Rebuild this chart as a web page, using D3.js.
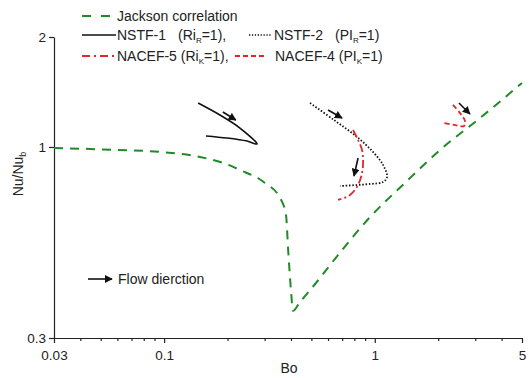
<!DOCTYPE html>
<html lang="en">
<head>
  <meta charset="UTF-8">
  <title>Nu/Nub vs Bo</title>
  <style>
    html, body { margin: 0; padding: 0; background: #fff; }
    #main { width: 529px; height: 378px; }
    text { font-family: "Liberation Sans", Arial, sans-serif; fill: #222; }
  </style>
</head>
<body>
  <div id="main"></div>
  <script src="https://d3js.org/d3.v7.min.js"></script>
  <script>
    // data
    const jacksonBo = [0.03, 0.05, 0.096, 0.148, 0.195, 0.229, 0.301, 0.355, 0.379, 0.388, 0.40, 0.409, 0.441, 0.52, 0.669, 0.95, 1.39, 2.04, 3.16, 5];
    const jacksonNu = [0.994, 0.985, 0.969, 0.939, 0.90, 0.865, 0.797, 0.725, 0.651, 0.522, 0.406, 0.356, 0.376, 0.421, 0.506, 0.643, 0.797, 0.981, 1.20, 1.497];

    const nstf1Bo = [0.145, 0.184, 0.229, 0.276, 0.2475, 0.199, 0.158];
    const nstf1Nu = [1.319, 1.223, 1.127, 1.019, 1.038, 1.058, 1.072];

    const nstf2Bo = [0.493, 0.641, 0.824, 0.981, 1.095, 1.144, 1.095, 0.95, 0.684];
    const nstf2Nu = [1.319, 1.185, 1.065, 0.969, 0.893, 0.828, 0.802, 0.792, 0.782];

    const nacef5Bo = [0.789, 0.833, 0.87, 0.88, 0.87, 0.833, 0.763, 0.669];
    const nacef5Nu = [1.113, 1.045, 0.981, 0.91, 0.849, 0.787, 0.739, 0.716];

    const nacef4Bo = [2.35, 2.54, 2.68, 2.65, 2.41, 2.13];
    const nacef4Nu = [1.303, 1.238, 1.178, 1.141, 1.148, 1.163];

    // flow direction arrows: [Bo start, Nu start, Bo end, Nu end]
    const arrows = [
      [0.19, 1.247, 0.219, 1.185],
      [0.60, 1.262, 0.699, 1.20],
      [0.833, 0.933, 0.797, 0.833],
      [2.51, 1.319, 2.83, 1.231]
    ];

    const boTicks = [0.03, 0.04, 0.05, 0.06, 0.07, 0.08, 0.09, 0.1, 0.2, 0.3, 0.4, 0.5, 0.6, 0.7, 0.8, 0.9, 1, 2, 3, 4, 5];
    const boLabels = [0.03, 0.1, 1, 5];
    const boMajor = [0.03, 0.1, 1, 5];
    const nuTicks = [0.3, 1, 2];

    const [width, height] = [529, 378];
    const svg = d3.select('#main').append('svg')
      .attr('width', width)
      .attr('height', height)
      .attr('viewBox', `0 0 ${width} ${height}`)

    const x = d3.scaleLog().domain([0.03, 5]).range([54, 522])
    const y = d3.scaleLog().domain([0.3, 2]).range([338, 37])

    const green = '#1f8a26', red = '#e3262b', black = '#111'

    svg.append('defs').append('marker')
      .attr('id', 'head')
      .attr('viewBox', '0 0 10 10')
      .attr('refX', 9).attr('refY', 5)
      .attr('markerWidth', 5).attr('markerHeight', 5)
      .attr('markerUnits', 'strokeWidth')
      .attr('orient', 'auto')
      .append('path').attr('d', 'M0,0 L10,5 L0,10 Z').attr('fill', black)

    // axes
    const xAxis = svg.append('g')
      .attr('transform', 'translate(0,338)')
      .call(d3.axisBottom(x).tickValues(boTicks).tickSizeOuter(0)
        .tickFormat(d => boLabels.includes(d) ? String(d) : ''))
    xAxis.selectAll('.tick line').attr('y2', d => boMajor.includes(d) ? 5 : 3)
    xAxis.selectAll('text').attr('dy', '0.95em').style('font-size', '13.5px')

    const yAxis = svg.append('g')
      .attr('transform', 'translate(54,0)')
      .call(d3.axisLeft(y).tickValues(nuTicks).tickSize(5).tickSizeOuter(0)
        .tickFormat(d => String(d)))
    yAxis.selectAll('text').style('font-size', '13.5px')
    svg.selectAll('.domain, .tick line').attr('stroke', '#222').attr('stroke-width', 1.2)

    svg.append('text').attr('x', 289).attr('y', 373).attr('text-anchor', 'middle')
      .style('font-size', '14px').text('Bo')
    const yl = svg.append('text').attr('transform', 'translate(23,174) rotate(-90)')
      .attr('text-anchor', 'middle').style('font-size', '14px')
    yl.append('tspan').text('Nu/Nu')
    yl.append('tspan').attr('dy', 3).style('font-size', '9px').text('b')

    // series
    const pts = (bo, nu) => bo.map((b, i) => [x(b), y(nu[i])])
    const line = d3.line().curve(d3.curveCatmullRom.alpha(0.5))

    svg.append('path').attr('d', d3.line().curve(d3.curveMonotoneX)(pts(jacksonBo, jacksonNu)))
      .attr('fill', 'none').attr('stroke', green).attr('stroke-width', 2).attr('stroke-dasharray', '9,7')
    svg.append('path').attr('d', line(pts(nstf1Bo, nstf1Nu)))
      .attr('fill', 'none').attr('stroke', black).attr('stroke-width', 1.6)
    svg.append('path').attr('d', line(pts(nstf2Bo, nstf2Nu)))
      .attr('fill', 'none').attr('stroke', black).attr('stroke-width', 1.8).attr('stroke-dasharray', '1.5,1.8')
    svg.append('path').attr('d', line(pts(nacef5Bo, nacef5Nu)))
      .attr('fill', 'none').attr('stroke', red).attr('stroke-width', 1.8).attr('stroke-dasharray', '8,3,2,3')
    svg.append('path').attr('d', line(pts(nacef4Bo, nacef4Nu)))
      .attr('fill', 'none').attr('stroke', red).attr('stroke-width', 1.8).attr('stroke-dasharray', '5,3')

    svg.selectAll('.arrow').data(arrows).join('line').attr('class', 'arrow')
      .attr('x1', d => x(d[0])).attr('y1', d => y(d[1]))
      .attr('x2', d => x(d[2])).attr('y2', d => y(d[3]))
      .attr('stroke', black).attr('stroke-width', 1.6).attr('marker-end', 'url(#head)')

    // legend
    const lg = svg.append('g').style('font-size', '14px')
    lg.append('line').attr('x1', 82).attr('x2', 114).attr('y1', 16).attr('y2', 16)
      .attr('stroke', green).attr('stroke-width', 2).attr('stroke-dasharray', '9,10')
    lg.append('text').attr('x', 117).attr('y', 21).text('Jackson correlation')

    lg.append('line').attr('x1', 82).attr('x2', 116).attr('y1', 35).attr('y2', 35)
      .attr('stroke', black).attr('stroke-width', 1.6)
    const t1 = lg.append('text').attr('x', 117).attr('y', 40)
    t1.append('tspan').text('NSTF-1')
    t1.append('tspan').attr('x', 178).text('(Ri')
    t1.append('tspan').attr('dy', 3).style('font-size', '8px').text('R')
    t1.append('tspan').attr('dy', -3).text('=1),')

    lg.append('line').attr('x1', 249).attr('x2', 271).attr('y1', 35).attr('y2', 35)
      .attr('stroke', black).attr('stroke-width', 1.6).attr('stroke-dasharray', '1.3,1.6')
    const t2 = lg.append('text').attr('x', 274).attr('y', 40)
    t2.append('tspan').text('NSTF-2')
    t2.append('tspan').attr('x', 335).text('(PI')
    t2.append('tspan').attr('dy', 3).style('font-size', '8px').text('R')
    t2.append('tspan').attr('dy', -3).text('=1)')

    lg.append('line').attr('x1', 82).attr('x2', 116).attr('y1', 56).attr('y2', 56)
      .attr('stroke', red).attr('stroke-width', 1.8).attr('stroke-dasharray', '8,4,2,4')
    const t3 = lg.append('text').attr('x', 117).attr('y', 61)
    t3.append('tspan').text('NACEF-5 (Ri')
    t3.append('tspan').attr('dy', 3).style('font-size', '8px').text('K')
    t3.append('tspan').attr('dy', -3).text('=1),')

    lg.append('line').attr('x1', 235).attr('x2', 266).attr('y1', 56).attr('y2', 56)
      .attr('stroke', red).attr('stroke-width', 1.8).attr('stroke-dasharray', '5,3')
    const t4 = lg.append('text').attr('x', 275).attr('y', 61)
    t4.append('tspan').text('NACEF-4 (PI')
    t4.append('tspan').attr('dy', 3).style('font-size', '8px').text('K')
    t4.append('tspan').attr('dy', -3).text('=1)')

    svg.append('line').attr('x1', 88).attr('x2', 112).attr('y1', 279).attr('y2', 279)
      .attr('stroke', black).attr('stroke-width', 1.6).attr('marker-end', 'url(#head)')
    svg.append('text').attr('x', 118).attr('y', 284).style('font-size', '14px').text('Flow dierction')
  </script>
</body>
</html>
